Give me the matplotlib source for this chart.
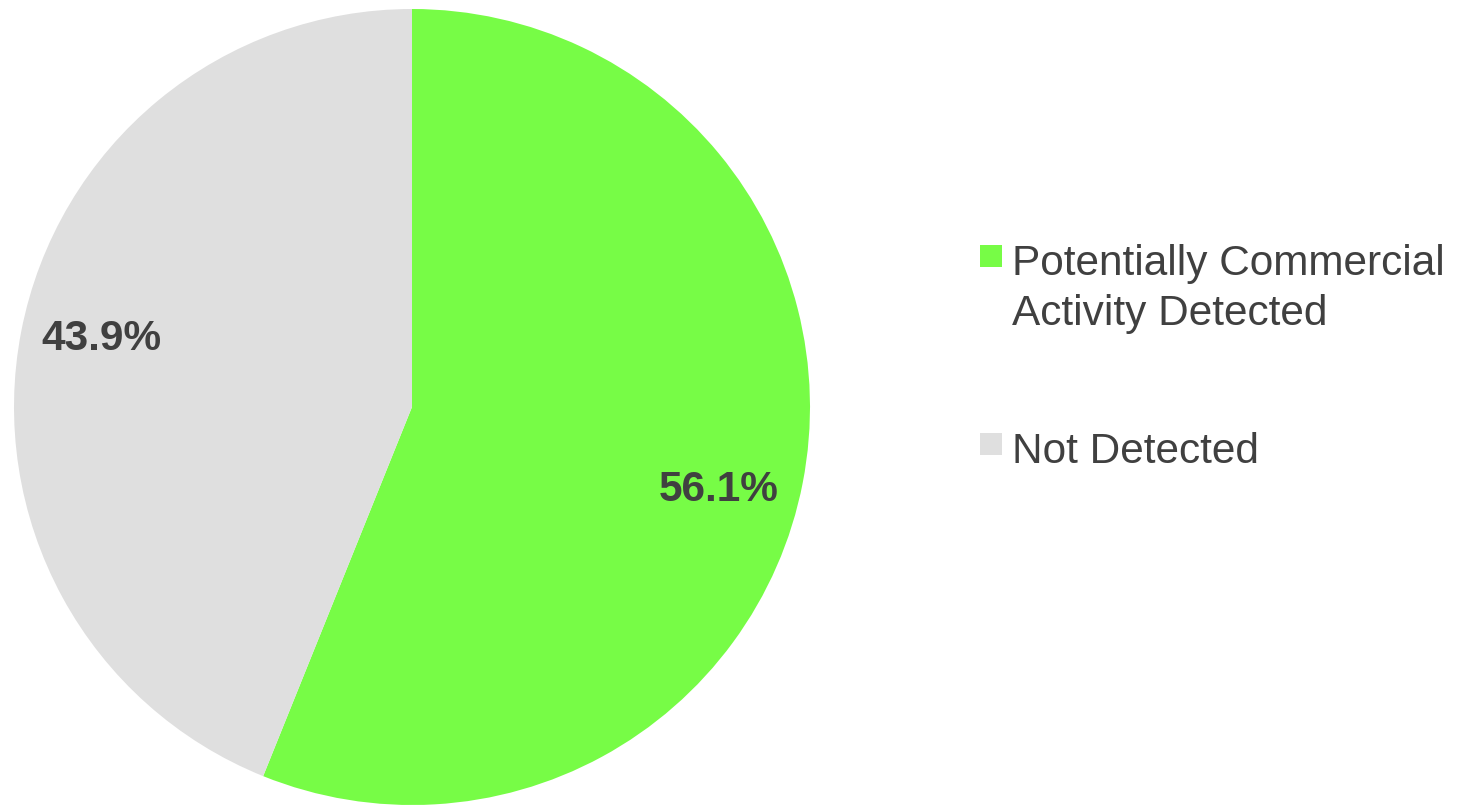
import matplotlib.pyplot as plt
from matplotlib.patches import Rectangle

categories = ['Potentially Commercial\nActivity Detected', 'Not Detected']
shares = [56.1, 43.9]
colors = ['#77FC46', '#DFDFDF']

plt.rcParams['font.family'] = ['Liberation Sans', 'DejaVu Sans']
text_color = '#404040'

W, H = 1463, 805
fig = plt.figure(figsize=(W / 100, H / 100), dpi=100)
ax = fig.add_axes([0, 0, 1, 1])

wedges, texts, autotexts = ax.pie(
    shares, colors=colors, startangle=90, counterclock=False,
    center=(412, 398), radius=398, autopct='%.1f%%', pctdistance=0.8,
    wedgeprops=dict(linewidth=0),
    textprops=dict(fontsize=30.5, fontweight='bold', color=text_color))

# nudge the percentage labels to where the original puts them
label_pos = [(719, 315), (101, 466)]
for t, pos in zip(autotexts, label_pos):
    t.set_position(pos)

ax.set_xlim(0, W)
ax.set_ylim(0, H)
ax.set_aspect('equal')
ax.axis('off')

# legend drawn by hand so the swatch sits beside the first line
line_step = 50
first_baseline = [530, 342]
for label, color, y in zip(categories, colors, first_baseline):
    n_lines = label.count('\n') + 1
    ax.add_patch(Rectangle((980, y + 8), 22, 22, facecolor=color, edgecolor='none'))
    ax.text(1012, y - (n_lines - 1) * line_step, label, fontsize=30.5,
            color=text_color, va='baseline', ha='left', linespacing=1.31)

fig.savefig('out.png', dpi=100)
